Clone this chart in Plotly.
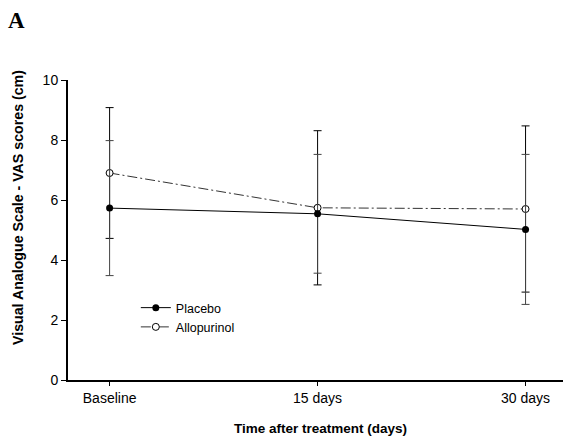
import plotly.graph_objects as go

categories = ["Baseline", "15 days", "30 days"]
placebo_mean = [5.73, 5.54, 5.02]
placebo_sd = [2.25, 1.98, 2.50]
allo_mean = [6.90, 5.74, 5.70]
allo_sd = [2.18, 2.57, 2.77]

xs = list(range(len(categories)))

fig = go.Figure()
fig.add_trace(go.Scatter(
    x=xs, y=allo_mean, name="Allopurinol", mode="lines+markers",
    line=dict(color="#333333", width=1, dash="10px,3px,2px,3px"),
    marker=dict(symbol="circle", size=7, color="white", line=dict(color="black", width=1)),
    error_y=dict(type="data", array=allo_sd, visible=True, color="black", thickness=1, width=4),
))
fig.add_trace(go.Scatter(
    x=xs, y=placebo_mean, name="Placebo", mode="lines+markers",
    line=dict(color="black", width=1),
    marker=dict(symbol="circle", size=7, color="black"),
    error_y=dict(type="data", array=placebo_sd, visible=True, color="#444444", thickness=1, width=4),
))

fig.update_layout(
    width=563, height=439,
    margin=dict(l=68, r=0, t=80, b=59),
    paper_bgcolor="white", plot_bgcolor="white",
    font=dict(family="Liberation Sans, Arial", color="black", size=14),
    showlegend=True,
    legend=dict(x=0.137, y=0.29, xanchor="left", yanchor="top", bgcolor="rgba(0,0,0,0)",
                font=dict(size=12.5), traceorder="reversed", tracegroupgap=0,
                itemwidth=30),
    xaxis=dict(tickvals=xs, ticktext=categories, range=[-0.2, 2.18],
               showline=True, linecolor="black", linewidth=2, ticks="outside",
               ticklen=4, tickcolor="black", showgrid=False, zeroline=False),
    yaxis=dict(range=[0, 10], tickvals=[0, 2, 4, 6, 8, 10],
               showline=True, linecolor="black", linewidth=2, ticks="outside",
               ticklen=5, tickcolor="black", showgrid=False, zeroline=False),
)
fig.add_annotation(text="<b>Time after treatment (days)</b>", xref="paper", yref="paper",
                   x=(320 - 68) / 495, y=-(428 - 380) / 300, xanchor="center", yanchor="middle",
                   showarrow=False, font=dict(size=13.5))
fig.add_annotation(text="<b>Visual Analogue Scale - VAS scores (cm)</b>", xref="paper", yref="paper",
                   x=-(68 - 18) / 495, y=(380 - 208) / 300, xanchor="center", yanchor="middle",
                   textangle=-90, showarrow=False, font=dict(size=14.2))
fig.add_annotation(text="<b>A</b>", xref="paper", yref="paper",
                   x=-(68 - 6) / 495, y=(380 - 6) / 300, xanchor="left", yanchor="top", showarrow=False,
                   font=dict(family="Liberation Serif, Times New Roman", size=23, color="black"))

fig.write_html("out.html")
